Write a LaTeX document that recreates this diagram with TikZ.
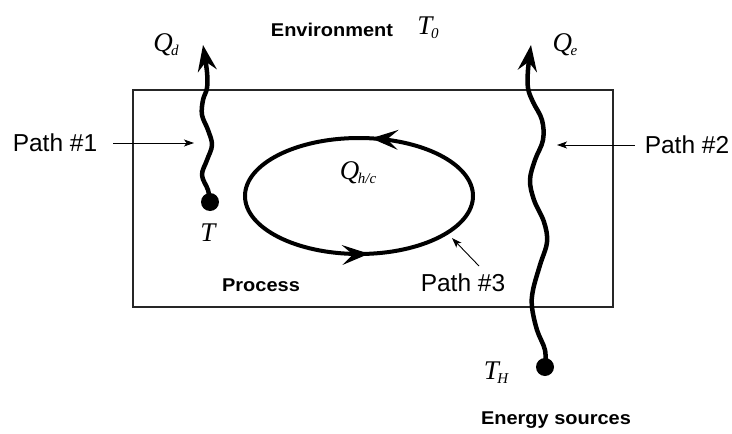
\documentclass[tikz,border=0pt]{standalone}
\usepackage{fontspec}
\setmainfont{Liberation Sans}
\newfontfamily\serf{Liberation Serif}
\usetikzlibrary{arrows.meta,decorations.markings}
\newcommand{\myvar}[2]{{\serf\itshape #1}\kern-1.5pt\raisebox{-4pt}{\serf\itshape\fontsize{15}{15}\selectfont #2}}
\begin{document}
\begin{tikzpicture}[x=1pt,y=-1pt,
  box/.style={line width=1.4pt,black!85},
  wave/.style={line width=4.5pt,line cap=round,line join=round,
     -{Stealth[length=26pt,width=19pt,inset=9pt]}},
  dotnode/.style={circle,fill=black,inner sep=0pt,minimum size=18pt},
  thinarrow/.style={line width=0.9pt,-{Stealth[length=10pt,width=7pt,inset=2.5pt]}},
  pathlbl/.style={font=\fontsize{24.5}{24.5}\selectfont,inner sep=0pt},
  boldlbl/.style={font=\fontsize{18.5}{18.5}\selectfont\bfseries,inner sep=0pt,xscale=1.08},
  varlbl/.style={font=\fontsize{27}{27}\selectfont,inner sep=0pt},
  cycle/.style={line width=4pt,
     postaction={decorate,decoration={markings,
       mark=at position 0.232 with {\arrowreversed[line width=1pt]{Stealth[length=27pt,width=20pt,inset=11pt]}},
       mark=at position 0.772 with {\arrowreversed[line width=1pt]{Stealth[length=27pt,width=20pt,inset=11pt]}}}}}
]
\useasboundingbox (0,0) rectangle (732,434);
\draw[box] (133,90) rectangle (613,307);

% labels
\node[boldlbl] (env) at (332,30) {Environment};
\node[varlbl] (t0) at (428,28) {\myvar{T}{0}};
\node[varlbl] (qd) at (166,45) {\myvar{Q}{d}};
\node[varlbl] (qe) at (565,45) {\myvar{Q}{e}};
\node[varlbl] (qhc) at (358,173) {\myvar{Q}{h/c}};
\node[varlbl] (tt) at (208,233) {{\serf\itshape T}};
\node[varlbl] (th) at (496,373) {\myvar{T}{H}};
\node[pathlbl] (p1) at (55,143) {Path \#1};
\node[pathlbl] (p2) at (687,145) {Path \#2};
\node[pathlbl] (p3) at (463,283) {Path \#3};
\node[boldlbl] (proc) at (261,285) {Process};
\node[boldlbl] (src) at (556,420) {Energy sources};

% dots
\node[dotnode] (d1) at (210,202) {};
\node[dotnode] (d2) at (545,367) {};

% wavy heat paths
\draw[wave] plot[smooth,tension=0.6] coordinates {(d1.center) (208,190) (202,175) (207,160) (212,145) (208,130) (202,115) (203,100) (207,88) (207,72) (203,45)};
\draw[wave] plot[smooth,tension=0.6] coordinates {(d2.center) (545,350) (537,330) (532,307) (533,290) (540,265) (547,242) (544,222) (534,200) (530,180) (535,160) (543,140) (542,120) (533,102) (528,88) (528,70) (531,45)};

% cycle
\draw[cycle] (359,196) ellipse [x radius=114, y radius=58];

% pointer arrows
\coordinate (a1) at (194,143);
\coordinate (a2) at (557,145);
\coordinate (a3s) at (479,266);
\coordinate (a3e) at (452,238);
\draw[thinarrow,shorten <=16pt] (p1.east) -- (a1);
\draw[thinarrow,shorten <=10pt] (p2.west) -- (a2);
\draw[thinarrow] (a3s) -- (a3e);
\end{tikzpicture}
\end{document}
